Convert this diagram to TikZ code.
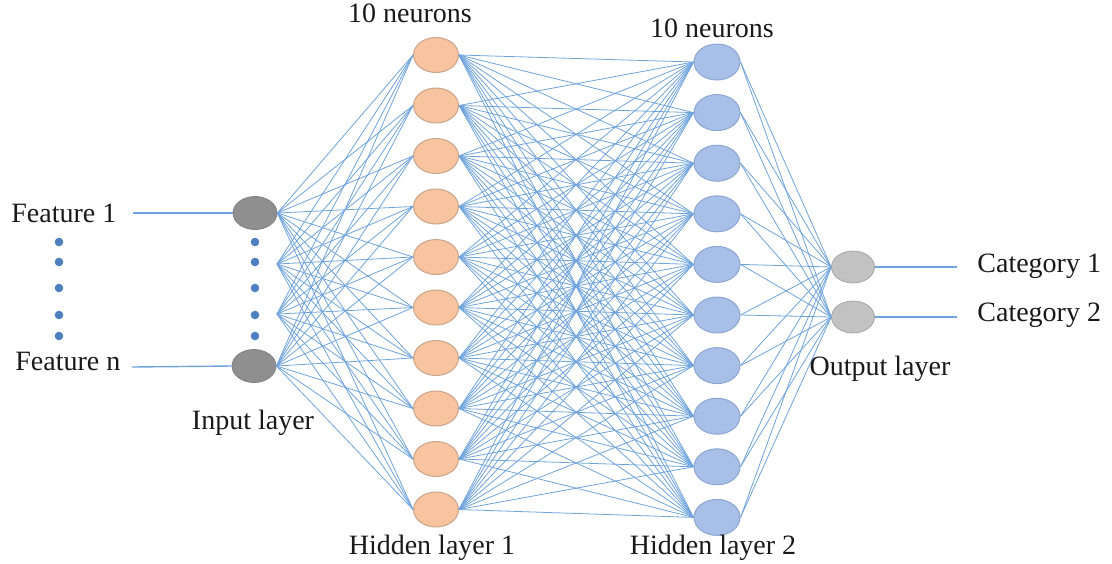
\documentclass[tikz,border=0pt]{standalone}
\usepackage{fontspec}
\setmainfont{Liberation Serif}
\usetikzlibrary{shapes.geometric}
\definecolor{edgeblue}{HTML}{6FA3DC}
\definecolor{peach}{HTML}{F8C4A0}
\definecolor{peachline}{HTML}{C9A48C}
\definecolor{lblue}{HTML}{A8BFE8}
\definecolor{lblueline}{HTML}{8EA6D2}
\definecolor{ingray}{HTML}{8F8F8F}
\definecolor{outgray}{HTML}{C2C2C2}
\definecolor{dotblue}{HTML}{4E7FBF}
\begin{document}
\begin{tikzpicture}[x=0.5pt,y=-0.5pt,
  lbl/.style={font=\fontsize{14}{16}\selectfont, text=black!90, inner sep=0pt},
  conn/.style={draw=edgeblue, line width=0.4pt},
  featline/.style={draw=edgeblue, line width=0.7pt},
  inneuron/.style={ellipse, inner sep=0pt, minimum width=22pt, minimum height=16.5pt, fill=ingray, draw=ingray!90!black, line width=0.4pt},
  honeneuron/.style={ellipse, inner sep=0pt, minimum width=22.5pt, minimum height=17.5pt, fill=peach, draw=peachline, line width=0.5pt},
  htwoneuron/.style={ellipse, inner sep=0pt, minimum width=23pt, minimum height=18pt, fill=lblue, draw=lblueline, line width=0.5pt},
  outneuron/.style={ellipse, inner sep=0pt, minimum width=21.5pt, minimum height=16pt, fill=outgray, draw=outgray!85!black, line width=0.4pt},
  dotnode/.style={circle, inner sep=0pt, minimum size=4.3pt, fill=dotblue}
]
\useasboundingbox (0,0) rectangle (1112,563);

% input layer
\node[inneuron] (in1) at (255,213) {};
\node[inneuron] (inn) at (254,366) {};
\coordinate (ina) at (277,264);
\coordinate (inb) at (277,314);

% hidden layer 1
\foreach \i [evaluate=\i as \yy using 55+50.5*\i] in {0,...,9}
  \node[honeneuron] (h\i) at (436,\yy) {};
% hidden layer 2
\foreach \i [evaluate=\i as \yy using 62+50.6*\i] in {0,...,9}
  \node[htwoneuron] (k\i) at (717,\yy) {};
% output layer
\node[outneuron] (o1) at (853,267) {};
\node[outneuron] (o2) at (853,317) {};

% connections input -> hidden 1
\foreach \i in {0,...,9} {
  \draw[conn] (in1.east) -- (h\i.west);
  \draw[conn] (ina) -- (h\i.west);
  \draw[conn] (inb) -- (h\i.west);
  \draw[conn] (inn.east) -- (h\i.west);
}
% hidden 1 -> hidden 2
\foreach \i in {0,...,9}
  \foreach \j in {0,...,9}
    \draw[conn] (h\i.east) -- (k\j.west);
% hidden 2 -> output
\foreach \j in {0,...,9} {
  \draw[conn] (k\j.east) -- (o1.west);
  \draw[conn] (k\j.east) -- (o2.west);
}

% feature lines
\coordinate (fs1) at (133,213);
\coordinate (fsn) at (132,367);
\draw[featline] (fs1) -- (in1.west);
\draw[featline] (fsn) -- (inn.west);
% category lines
\coordinate (ce1) at (957,267);
\coordinate (ce2) at (957,317);
\draw[featline] (o1.east) -- (ce1);
\draw[featline] (o2.east) -- (ce2);

% dots
\foreach \y [count=\n] in {242,262,288,315,336} {
  \node[dotnode] (fd\n) at (59,\y) {};
  \node[dotnode] (id\n) at (255,\y) {};
}

% labels
\node[lbl, anchor=west] (lf1) at (11,213) {Feature 1};
\node[lbl, anchor=west] (lfn) at (15,361) {Feature n};
\node[lbl] (lin) at (253,423) {Input layer};
\node[lbl] (ln1) at (410,13) {10 neurons};
\node[lbl] (ln2) at (712,28) {10 neurons};
\node[lbl] (lh1) at (432,548) {Hidden layer 1};
\node[lbl] (lh2) at (713,548) {Hidden layer 2};
\node[lbl] (lout) at (880,369) {Output layer};
\node[lbl, anchor=west] (lc1) at (977,266) {Category 1};
\node[lbl, anchor=west] (lc2) at (977,315) {Category 2};
\end{tikzpicture}
\end{document}
